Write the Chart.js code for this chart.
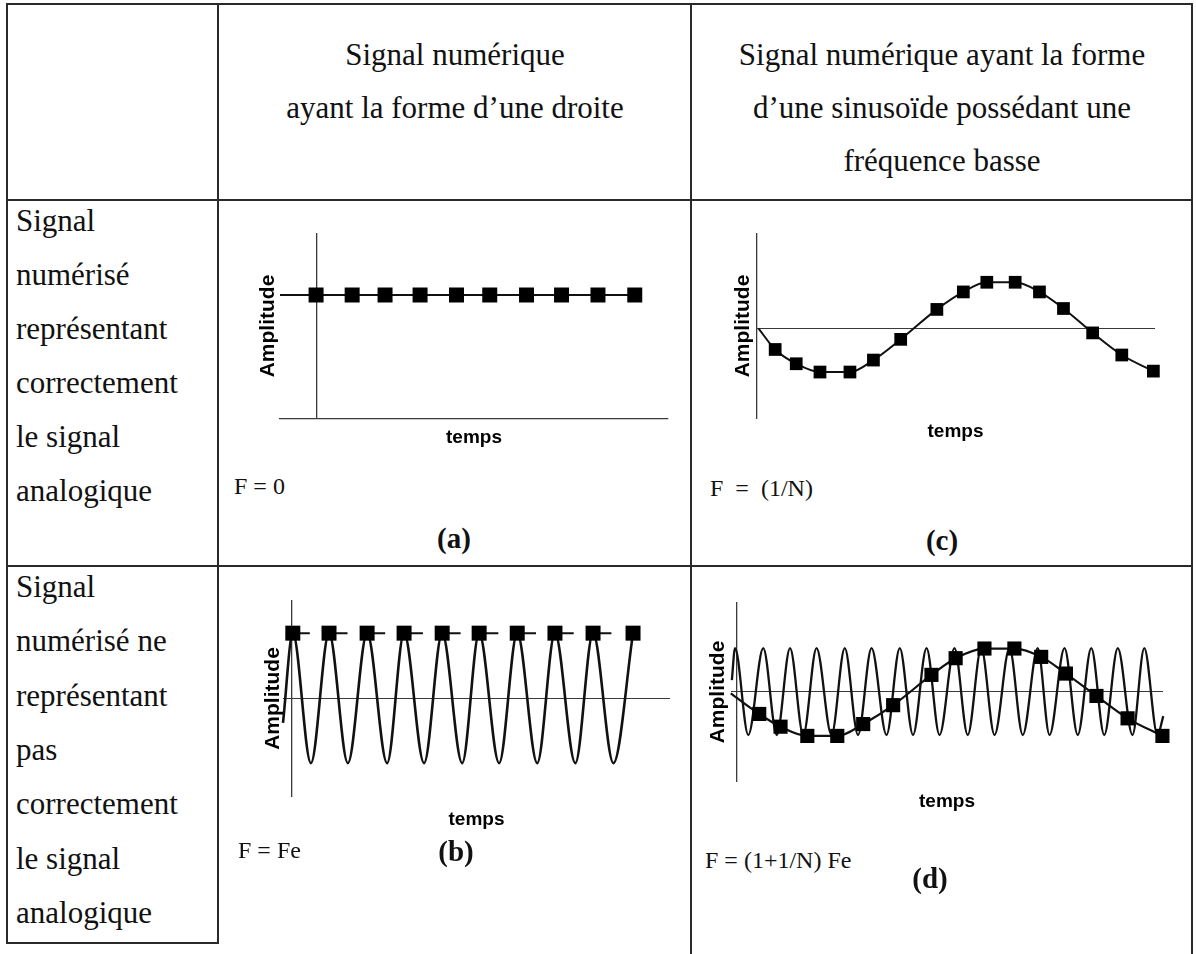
<!DOCTYPE html>
<html><head><meta charset="utf-8">
<script src="https://cdn.jsdelivr.net/npm/chart.js@4.4.1/dist/chart.umd.min.js"></script>
<style>
html,body{margin:0;padding:0;background:#fff;}
body{width:1196px;height:954px;position:relative;overflow:hidden;font-family:"Liberation Serif","Times New Roman",serif;color:#111;}
.ln{position:absolute;background:#2a2a2a;}
.t{position:absolute;white-space:pre;line-height:1;}
canvas{position:absolute;}
</style></head><body>
<canvas id="ca"></canvas><canvas id="cc"></canvas><canvas id="cb"></canvas><canvas id="cd"></canvas>
<script>
// ---------- texts ----------
const headerCol2 = ["Signal numérique", "ayant la forme d’une droite"];
const headerCol3 = ["Signal numérique ayant la forme", "d’une sinusoïde possédant une", "fréquence basse"];
const row1Label = ["Signal", "numérisé", "représentant", "correctement", "le signal", "analogique"];
const row2Label = ["Signal", "numérisé ne", "représentant", "pas", "correctement", "le signal", "analogique"];
const freqLabels = ["F = 0", "F  =  (1/N)", "F = Fe", "F = (1+1/N) Fe"];
const panelLabels = ["(a)", "(c)", "(b)", "(d)"];
const xTitle = "temps";
const yTitle = "Amplitude";

// ---------- data (time in sample units, amplitude in arbitrary units) ----------
// (a) constant signal, F = 0
const aSignalT = [-1.04, 8.99];
const aSignalY = [1, 1];
const aSampleT = [-0.02, 1.0, 1.93, 2.92, 3.95, 4.89, 5.93, 6.92, 7.95, 8.99];
const aSampleY = [1, 1, 1, 1, 1, 1, 1, 1, 1, 1];

// (c) low-frequency sinusoid, F = 1/N
const cSignalT = [0.06];
const cSignalY = [0];
const cSampleT = [0.68, 1.46, 2.34, 3.45, 4.32, 5.33, 6.67, 7.65, 8.52, 9.57, 10.47, 11.36, 12.44, 13.52, 14.69];
const cSampleY = [-0.46, -0.77, -0.95, -0.95, -0.69, -0.24, 0.41, 0.79, 1.0, 1.0, 0.79, 0.43, -0.10, -0.58, -0.93];

// (b) F = Fe : analog sinusoid (start, peaks/troughs) and its samples
const bSignalT = [-0.23, 0.03, 0.51, 0.99, 1.49, 2.0, 2.53, 2.98, 3.51, 3.99, 4.52, 4.97, 5.5, 5.98, 6.51, 6.98, 7.52, 7.99, 8.53, 9.05];
const bSignalY = [-0.38, 1, -1, 1, -1, 1, -1, 1, -1, 1, -1, 1, -1, 1, -1, 1, -1, 1, -1, 1];
const bSampleT = [0.03, 0.99, 2.0, 2.98, 3.99, 4.97, 5.98, 6.98, 7.99, 9.05];
const bSampleY = [1, 1, 1, 1, 1, 1, 1, 1, 1, 1];

// (d) F = (1+1/N) Fe : analog high-frequency sinusoid and apparent low-frequency samples
const dSignalT = [-0.18, -0.07, 0.39, 0.91, 1.38, 1.84, 2.30, 2.76, 3.28, 3.74, 4.20, 4.67, 5.19, 5.65, 6.11, 6.58, 7.03, 7.55, 8.01, 8.48, 8.94, 9.46, 9.92, 10.44, 10.85, 11.37, 11.83, 12.30, 12.75, 13.22, 13.73, 14.14, 14.60, 14.80];
const dSignalY = [0.27, 1, -0.98, 1, -0.98, 1, -0.98, 1, -0.98, 1, -0.98, 1, -0.98, 1, -0.98, 1, -0.98, 1, -0.98, 1, -0.98, 1, -0.98, 1, -0.98, 1, -0.98, 1, -0.98, 1, -0.98, 1, -0.98, -0.55];
const dAliasStartT = [-0.22];
const dAliasStartY = [-0.03];
const dSampleT = [0.77, 1.51, 2.44, 3.48, 4.38, 5.42, 6.75, 7.59, 8.59, 9.63, 10.56, 11.42, 12.48, 13.56, 14.77];
const dSampleY = [-0.5, -0.79, -1.0, -1.0, -0.73, -0.30, 0.39, 0.77, 0.99, 0.99, 0.80, 0.42, -0.09, -0.60, -1.0];

// ---------- layout ----------
const SERIF = '"Liberation Serif","Times New Roman",serif';
const SANS = '"Liberation Sans",Arial,sans-serif';
const INK = '#111111';
const AXIS = '#3a3a3a';

function line(x, y, w, h) {
  const d = document.createElement('div');
  d.className = 'ln';
  Object.assign(d.style, {left: x + 'px', top: y + 'px', width: w + 'px', height: h + 'px'});
  document.body.appendChild(d);
}
function text(str, x, baseline, size, opt) {
  opt = opt || {};
  const d = document.createElement('div');
  d.className = 't';
  d.textContent = str;
  d.style.fontSize = size + 'px';
  d.style.fontFamily = SERIF;
  if (opt.bold) d.style.fontWeight = 'bold';
  d.style.top = (baseline - 0.8375 * size) + 'px';
  if (opt.center) { d.style.left = (x - 400) + 'px'; d.style.width = '800px'; d.style.textAlign = 'center'; }
  else d.style.left = x + 'px';
  document.body.appendChild(d);
}

// table rules
line(6, 3, 1187, 2);
line(6, 3, 2, 941);
line(217, 3, 2, 941);
line(690, 3, 2, 951);
line(1191, 3, 2, 951);
line(6, 199, 1187, 2);
line(6, 565, 1187, 2);
line(6, 942, 213, 2);

// header texts
headerCol2.forEach((s, i) => text(s, 455, 65 + 53 * i, 31, {center: true}));
headerCol3.forEach((s, i) => text(s, 942, 65 + 53 * i, 31, {center: true}));
row1Label.forEach((s, i) => text(s, 16, 231 + 54 * i, 31));
row2Label.forEach((s, i) => text(s, 16, 597 + 54.3 * i, 31));

// formulas and panel letters
text(freqLabels[0], 234, 494, 24);
text(freqLabels[1], 710, 496, 24);
text(freqLabels[2], 238, 858, 24);
text(freqLabels[3], 705, 868, 24);
text(panelLabels[0], 454, 548, 29, {bold: true, center: true});
text(panelLabels[1], 942, 550, 29, {bold: true, center: true});
text(panelLabels[2], 456, 861, 29, {bold: true, center: true});
text(panelLabels[3], 930, 888, 29, {bold: true, center: true});

function pts(T, Y) { return T.map((t, i) => ({x: t, y: Y[i]})); }

function build(id, box, plot, yGap, xGap, sc, datasets) {
  const cv = document.getElementById(id);
  cv.width = box.w; cv.height = box.h;
  cv.style.left = box.x + 'px'; cv.style.top = box.y + 'px';
  const yW = 2 * yGap;
  const xLH = 19 * 1.2;
  const xPadTop = xGap - xLH / 2;
  const xH = xLH + xPadTop;
  new Chart(cv, {
    type: 'scatter',
    data: {datasets},
    options: {
      responsive: false, animation: false, devicePixelRatio: 1, events: [],
      layout: {autoPadding: false, padding: {
        left: plot.l - box.x - yW, top: plot.t - box.y,
        right: box.x + box.w - plot.r, bottom: box.y + box.h - plot.b - xH}},
      plugins: {legend: {display: false}, tooltip: {enabled: false}},
      scales: {
        x: {type: 'linear', bounds: 'data', min: sc.xmin, max: sc.xmax,
          ticks: {display: false},
          afterBuildTicks: s => { s.ticks = [{value: 0}]; },
          grid: {drawTicks: false, lineWidth: 1.3, color: c => (c.tick && c.tick.value === 0) ? AXIS : 'rgba(0,0,0,0)'},
          border: {display: !!sc.xBorder, color: AXIS, width: 1.3},
          title: {display: true, text: xTitle, color: '#000', font: {family: SANS, size: 19, weight: 'bold', lineHeight: 1.2}, padding: {top: xPadTop, bottom: 0}}},
        y: {type: 'linear', bounds: 'data', min: sc.ymin, max: sc.ymax,
          ticks: {display: false},
          afterBuildTicks: s => { s.ticks = [{value: 0}]; },
          grid: {drawTicks: false, lineWidth: 1.1, color: c => (sc.zero && c.tick && c.tick.value === 0) ? AXIS : 'rgba(0,0,0,0)'},
          border: {display: false},
          title: {display: true, text: yTitle, color: '#000', font: {family: SANS, size: 21, weight: 'bold', lineHeight: 2 * yGap / 21}, padding: {top: 0, bottom: 0}}}
      }
    }
  });
}

function signalDS(data, width, opt) {
  return Object.assign({data, showLine: true, borderColor: INK, borderWidth: width, pointRadius: 0, clip: false, order: 2, cubicInterpolationMode: 'monotone'}, opt || {});
}
function sampleDS(data, r, opt) {
  return Object.assign({data, showLine: false, pointStyle: 'rect', pointRadius: r, backgroundColor: '#000', borderColor: '#000', borderWidth: 0, clip: false, order: 0}, opt || {});
}

// (a)
build('ca', {x: 222, y: 208, w: 466, h: 262}, {l: 280, t: 233, r: 668, b: 419}, 12, 19,
  {xmin: -1.04, xmax: 9.93, ymin: 0, ymax: 1.5, xBorder: true, zero: false},
  [sampleDS(pts(aSampleT, aSampleY), 10.6), signalDS(pts(aSignalT, aSignalY), 2.2, {cubicInterpolationMode: 'default'})]);

// (c)
build('cc', {x: 695, y: 208, w: 493, h: 262}, {l: 756, t: 233, r: 1155, b: 419}, 13, 13,
  {xmin: -0.03, xmax: 14.75, ymin: -1.97, ymax: 2.07, xBorder: false, zero: true},
  [sampleDS(pts(cSampleT, cSampleY), 9), signalDS(pts(cSignalT.concat(cSampleT), cSignalY.concat(cSampleY)), 2)]);

// (b)
build('cb', {x: 222, y: 570, w: 466, h: 270}, {l: 283, t: 600, r: 670, b: 797}, 10, 23,
  {xmin: -0.23, xmax: 10.03, ymin: -1.52, ymax: 1.51, xBorder: false, zero: true},
  [sampleDS(pts(bSampleT, bSampleY), 10.6),
   signalDS(pts(bSampleT, bSampleY), 2, {borderDash: [17, 20.7], cubicInterpolationMode: 'default', order: 1}),
   signalDS(pts(bSignalT, bSignalY), 2.6)]);

// (d)
build('cd', {x: 695, y: 570, w: 493, h: 270}, {l: 731, t: 602, r: 1163, b: 782}, 13, 20,
  {xmin: -0.21, xmax: 14.79, ymin: -2.05, ymax: 2.05, xBorder: false, zero: true},
  [sampleDS(pts(dSampleT, dSampleY), 10),
   signalDS(pts(dAliasStartT.concat(dSampleT), dAliasStartY.concat(dSampleY)), 2.2, {order: 1}),
   signalDS(pts(dSignalT, dSignalY), 2.3)]);
</script>
</body></html>
